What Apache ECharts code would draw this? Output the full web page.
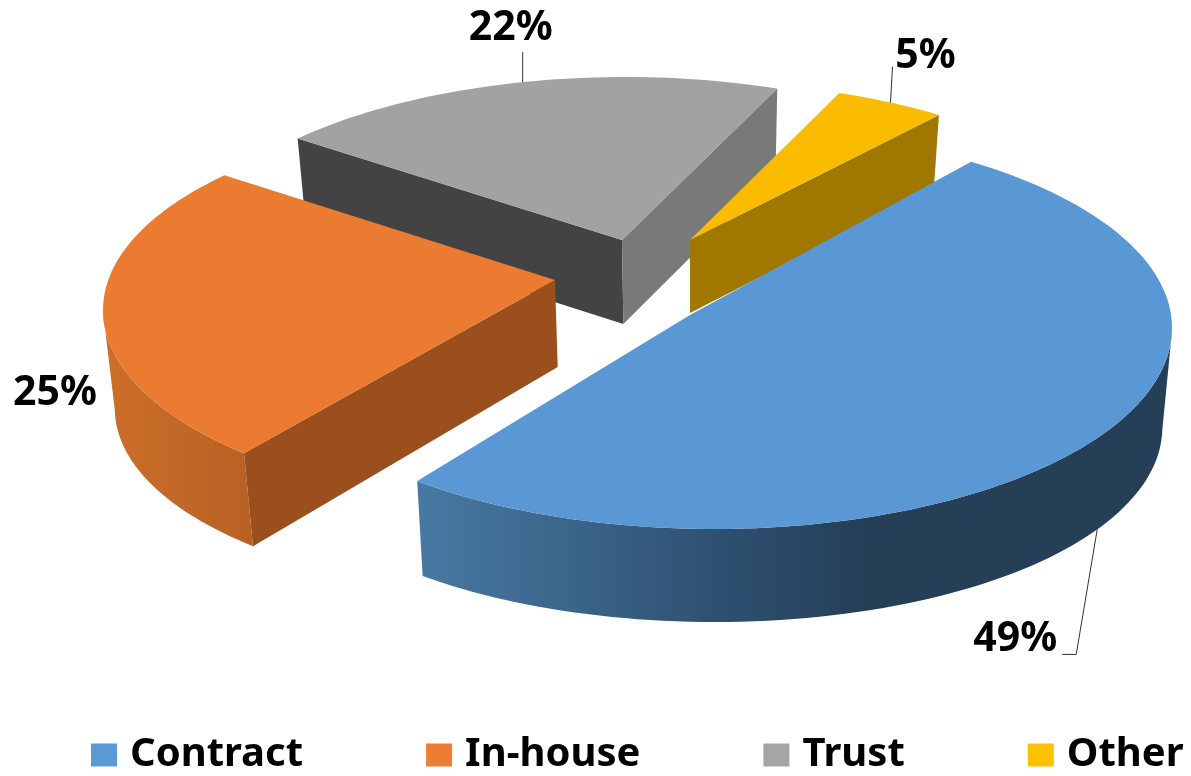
<!DOCTYPE html>
<html>
<head>
<meta charset="utf-8">
<title>Contract, In-house, Trust, Other</title>
<style>
  html, body { margin: 0; padding: 0; background: #fff; }
  #chart { width: 1191px; height: 776px; }
</style>
<script src="https://cdn.jsdelivr.net/npm/echarts@6/dist/echarts.min.js"></script>
</head>
<body>
<div id="chart"></div>
<script>
// values
var categories = ['Contract', 'In-house', 'Trust', 'Other'];
var shares = [49, 25, 22, 5];
var legendColors = ['#5b9bd5', '#ed7d31', '#a5a5a5', '#ffc000'];

var FONT = '"Noto Sans", "Open Sans", sans-serif';
var START_ANGLE = -52.7;   // where Contract begins, clockwise from 3 o'clock
var TILT = 0.42;           // how much the disc is squashed
var VANISH_X = 690;
var SHRINK = 0.02;         // bottom face is a bit narrower than the top one

// one exploded wedge each: apex on screen, rim ellipse, height, paints
// trim corrects the start/end angle for the perspective of the original
var wedges = [
  { apex: [690, 315], center: [714, 328], a: 458, b: 201, depth: 93, bulge: 6, apexDepth: 94, trim: [0.3, 0.9], z: 5,
    top: '#5997d5', band: [[0, '#477aa3'], [0.4, '#2f5072'], [0.6, '#243f56'], [1, '#243f56']],
    anchorBottom: true, anchorShift: -2.2, lead: [[-21, 125], [-35, 125]], text: [-82, 110] },
  { apex: [555, 280], center: [558, 310], a: 455, b: 198, depth: 90, bulge: 8, apexDepth: 87, trim: [3.3, 3.3], z: 4,
    top: '#ea7b30', band: [[0, '#cc6f29'], [1, '#b86024']], faceStart: '#9a4f1d',
    anchorShift: 0, lead: null, text: [-48, 87] },
  { apex: [622, 240], center: [625, 275], a: 452, b: 198, depth: 84, bulge: 0, apexDepth: 84, trim: [3.0, 0.4], z: 2,
    top: '#a2a2a2', faceStart: '#434343', faceEnd: '#797979',
    anchorShift: 0.2, lead: [[0, -30]], text: [-12, -54] },
  { apex: [690, 240], center: [693, 280], a: 445, b: 198, depth: 73, bulge: 0, apexDepth: 73, trim: [0.2, -1.0], z: 3,
    top: '#fbbc00', faceEnd: '#a07800',
    anchorShift: 0, lead: [[2, -36]], text: [35, -46] }
];

function rimPoint(w, deg) {
  var t = deg * Math.PI / 180;
  var dx = Math.cos(t), dy = TILT * Math.sin(t);
  var ox = w.apex[0] - w.center[0], oy = w.apex[1] - w.center[1];
  var A = dx * dx / (w.a * w.a) + dy * dy / (w.b * w.b);
  var B = 2 * (ox * dx / (w.a * w.a) + oy * dy / (w.b * w.b));
  var C = ox * ox / (w.a * w.a) + oy * oy / (w.b * w.b) - 1;
  var r = (-B + Math.sqrt(B * B - 4 * A * C)) / (2 * A);
  var p = [w.apex[0] + r * dx, w.apex[1] + r * dy];
  p.cos = dx;
  return p;
}

function drop(w, p) {
  var depth = w.depth + w.bulge * p.cos * p.cos;
  return [p[0] + (VANISH_X - p[0]) * SHRINK, p[1] + depth];
}

function dropApex(w) {
  return [w.apex[0] + (VANISH_X - w.apex[0]) * SHRINK, w.apex[1] + w.apexDepth];
}

function polygon(points, fill) {
  return { type: 'polygon', shape: { points: points }, style: { fill: fill } };
}

function renderWedge(index, value) {
  var w = wedges[index];
  var base = START_ANGLE;
  for (var i = 0; i < index; i++) base += shares[i] * 3.6;
  var from = base + w.trim[0];
  var to = base + value * 3.6 + w.trim[1];

  var rim = [];
  for (var d = from; d < to; d += 1.5) rim.push(rimPoint(w, d));
  rim.push(rimPoint(w, to));

  var children = [];
  // outer wall, only the part that faces the viewer
  if (w.band) {
    var front = rim.filter(function (p) { return p[1] >= w.center[1]; });
    var wall = front.concat(front.map(function (p) { return drop(w, p); }).reverse());
    children.push(polygon(wall, new echarts.graphic.LinearGradient(0, 0, 1, 0, w.band.map(function (s) {
      return { offset: s[0], color: s[1] };
    }))));
  }
  // cut faces
  if (w.faceStart) {
    children.push(polygon([w.apex, rim[0], drop(w, rim[0]), dropApex(w)], w.faceStart));
  }
  if (w.faceEnd) {
    var last = rim[rim.length - 1];
    children.push(polygon([w.apex, last, drop(w, last), dropApex(w)], w.faceEnd));
  }
  // top
  children.push(polygon([w.apex].concat(rim), w.top));

  // label and leader
  var anchor = rimPoint(w, (from + to) / 2 + w.anchorShift);
  if (w.anchorBottom) anchor = drop(w, anchor);
  if (w.lead) {
    children.push({
      type: 'polyline',
      shape: { points: [anchor].concat(w.lead.map(function (o) { return [anchor[0] + o[0], anchor[1] + o[1]]; })) },
      style: { fill: null, stroke: '#333', lineWidth: 1 }
    });
  }
  children.push({
    type: 'text',
    x: anchor[0] + w.text[0],
    y: anchor[1] + w.text[1],
    style: {
      text: value + '%',
      font: 'bold 41px ' + FONT,
      fill: '#000',
      align: 'center',
      verticalAlign: 'middle'
    }
  });
  return { type: 'group', children: children };
}

var chart = echarts.init(document.getElementById('chart'));
chart.setOption({
  backgroundColor: '#fff',
  animation: false,
  legend: {
    left: 91,
    top: 735,
    padding: 0,
    width: 1100,
    itemWidth: 26,
    itemHeight: 23,
    itemGap: 123,
    icon: 'rect',
    data: categories,
    textStyle: { fontFamily: FONT, fontWeight: 'bold', fontSize: 40, color: '#000', padding: [5, 0, 0, 8] }
  },
  series: categories.map(function (name, i) {
    return {
      name: name,
      type: 'custom',
      coordinateSystem: 'none',
      z: wedges[i].z,
      itemStyle: { color: legendColors[i] },
      data: [[shares[i]]],
      renderItem: function (params, api) {
        return renderWedge(i, api.value(0));
      }
    };
  })
});
</script>
</body>
</html>
